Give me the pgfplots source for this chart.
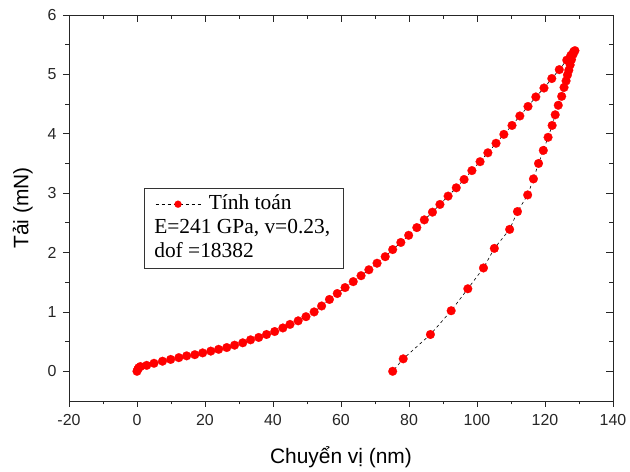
\documentclass[border=0pt]{standalone}
\usepackage{fontspec}
\setmainfont{Liberation Sans}
\newfontfamily\seriffont{Liberation Serif}
\usepackage{pgfplots}
\pgfplotsset{compat=1.18}
\pgfplotstableread{
x y
0 0
0.2 0.03
0.5 0.06
1.0 0.08
2.85 0.10
5.0 0.135
7.5 0.17
9.9 0.20
12.3 0.23
14.6 0.26
17.0 0.28
19.3 0.31
21.7 0.34
24.0 0.37
26.4 0.40
28.7 0.44
31.1 0.48
33.4 0.53
35.8 0.57
38.1 0.62
40.5 0.67
42.9 0.73
45.0 0.79
47.4 0.85
49.7 0.92
52.1 1.00
54.3 1.10
56.6 1.21
58.9 1.31
61.2 1.41
63.6 1.51
65.9 1.61
68.2 1.71
70.6 1.82
73.0 1.93
75.2 2.05
77.6 2.17
79.9 2.29
82.3 2.42
84.5 2.55
86.9 2.68
89.1 2.81
91.5 2.95
93.9 3.09
96.2 3.23
98.5 3.38
100.9 3.53
103.2 3.68
105.6 3.84
107.9 3.99
110.3 4.14
112.6 4.30
115.0 4.46
117.3 4.62
119.7 4.77
122.0 4.93
124.2 5.08
126.4 5.24
127.6 5.32
128.4 5.38
128.8 5.40
128.3 5.34
127.8 5.25
127.4 5.16
127.0 5.07
126.6 4.99
126.2 4.89
125.6 4.78
124.9 4.63
123.9 4.48
123.0 4.32
122.1 4.14
120.9 3.94
119.5 3.72
118.1 3.50
116.6 3.24
114.9 2.97
111.9 2.69
109.6 2.39
105.1 2.07
101.9 1.74
97.3 1.39
92.4 1.02
86.3 0.62
78.3 0.21
75.2 0.0
}\curvedata
\begin{document}
\begin{tikzpicture}
\begin{axis}[
 scale only axis, width=544bp, height=386bp,
 xmin=-20, xmax=140, ymin=-0.5, ymax=6,
 xtick={-20,0,...,140}, ytick={0,1,...,6},
 minor x tick num=1, minor y tick num=1,
 tick align=outside, xtick pos=lower, ytick pos=left,
 major tick length=6bp, minor tick length=3.5bp,
 axis line style={line width=0.9pt, black!85},
 every tick/.style={line width=0.8pt, black!85},
 tick label style={font=\fontsize{16}{16}\selectfont, black!85},
 xticklabel style={yshift=-4bp},
 yticklabel style={xshift=-3bp},
 /pgf/number format/assume math mode=true,
 xlabel={Chuyển vị (nm)}, ylabel={Tải (mN)},
 label style={font=\fontsize{21}{21}\selectfont},
 xlabel style={yshift=-14bp},
 ylabel style={yshift=8bp},
 legend style={at={(0.1379,0.5518)}, anchor=north west, draw=black!80,
   font=\seriffont\fontsize{21.5}{24}\selectfont, cells={anchor=west},
   nodes={text height=15bp, text depth=5bp, inner ysep=2bp},
   inner xsep=11bp, inner ysep=4bp, row sep=0bp},
 legend image code/.code={\draw[mark repeat=2, mark phase=2, #1, mark size=3.5bp] plot coordinates {(0bp,0bp) (22.5bp,0bp) (45bp,0bp)};},
]
\addplot[black, line width=0.6pt, dash pattern=on 3bp off 3bp, mark=*, mark size=4.4bp,
  mark options={solid, fill=red, draw=red, line width=0.2pt}] table {\curvedata};
\addlegendentry{\hspace*{6bp}Tính toán}
\addlegendimage{empty legend}
\addlegendentry{\hspace*{-48.5bp}E=241 GPa, v=0.23,}
\addlegendimage{empty legend}
\addlegendentry{\hspace*{-48.5bp}dof =18382}
\end{axis}
\begin{axis}[
 scale only axis, width=544bp, height=386bp,
 xmin=-20, xmax=140, ymin=-0.5, ymax=6,
 xtick={-20,0,...,140}, ytick={0,1,...,6},
 minor x tick num=1, minor y tick num=1,
 tick align=inside, xtick pos=upper, ytick pos=right,
 xticklabels={}, yticklabels={},
 major tick length=7bp, minor tick length=4bp,
 axis line style={line width=0.9pt, black!85},
 every tick/.style={line width=0.8pt, black!85},
]
\end{axis}
\path (-69bp,-68bp) rectangle (561bp,401bp);
\end{tikzpicture}
\end{document}
